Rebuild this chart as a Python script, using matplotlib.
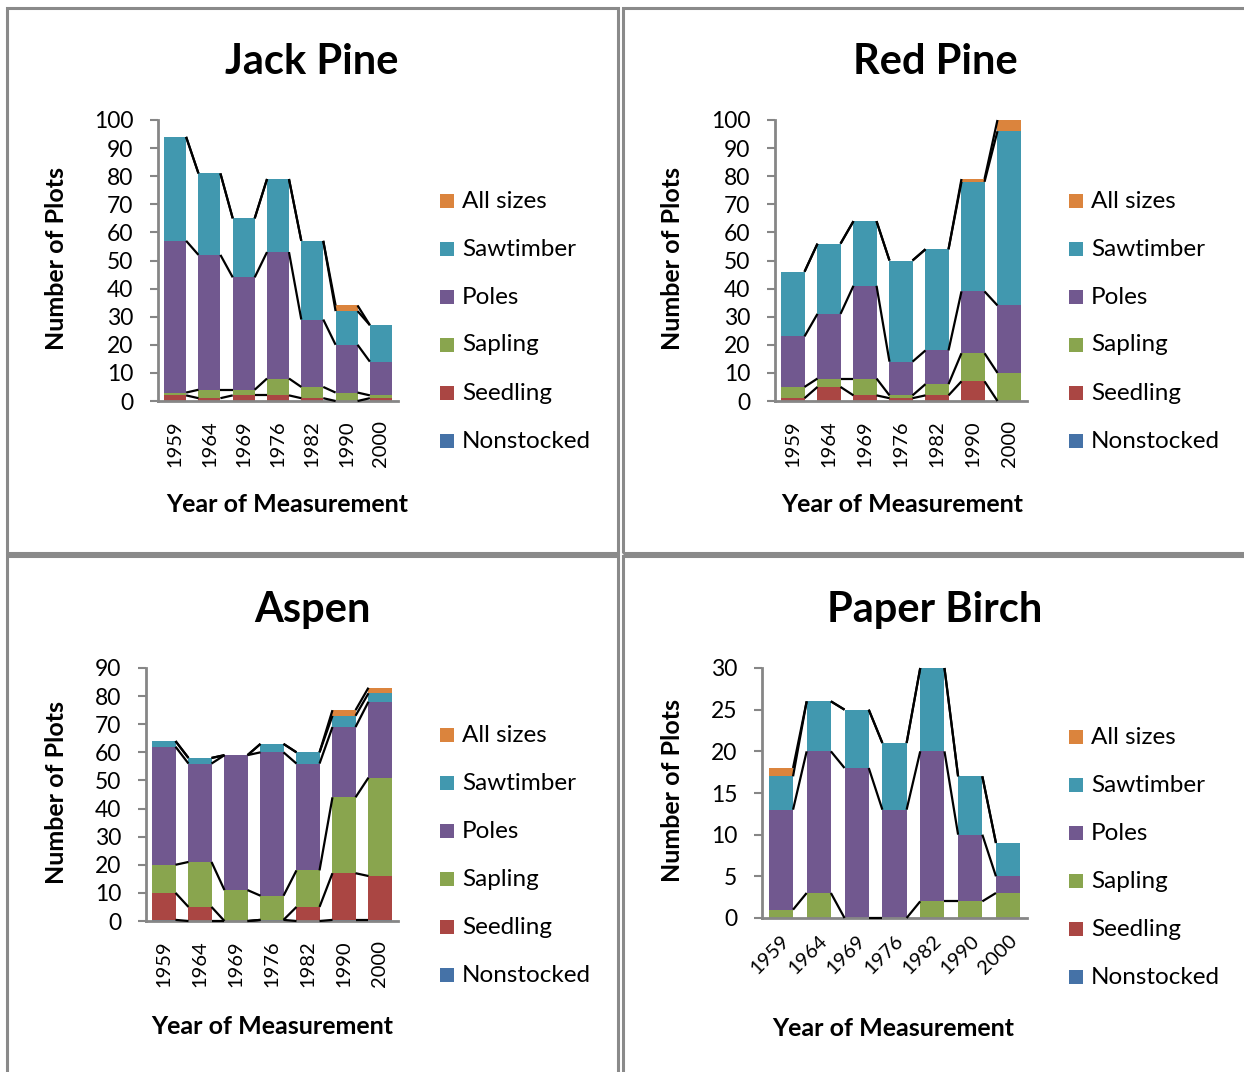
import numpy as np
import matplotlib

matplotlib.use("Agg")
import matplotlib.pyplot as plt
from matplotlib.patches import Rectangle

plt.rcParams["font.family"] = ["Lato", "DejaVu Sans"]

years = ["1959", "1964", "1969", "1976", "1982", "1990", "2000"]
series_names = ["Nonstocked", "Seedling", "Sapling", "Poles", "Sawtimber", "All sizes"]
colors = ["#4572A7", "#AA4643", "#89A54E", "#71588F", "#4198AF", "#DB843D"]

# ---------- plot counts per size class, bottom to top ----------
jp_nonstocked = [0, 0, 0, 0, 0, 0, 0]
jp_seedling = [2, 1, 2, 2, 1, 0, 1]
jp_sapling = [1, 3, 2, 6, 4, 3, 1]
jp_poles = [54, 48, 40, 45, 24, 17, 12]
jp_sawtimber = [37, 29, 21, 26, 28, 12, 13]
jp_allsizes = [0, 0, 0, 0, 0, 2, 0]

rp_nonstocked = [0, 0, 0, 0, 0, 0, 0]
rp_seedling = [1, 5, 2, 1, 2, 7, 0]
rp_sapling = [4, 3, 6, 1, 4, 10, 10]
rp_poles = [18, 23, 33, 12, 12, 22, 24]
rp_sawtimber = [23, 25, 23, 36, 36, 39, 62]
rp_allsizes = [0, 0, 0, 0, 0, 1, 4]

as_nonstocked = [0.4, 0, 0, 0.4, 0, 0.4, 0.4]
as_seedling = [9.6, 5, 0, 0, 5, 16.6, 15.6]
as_sapling = [10, 16, 11, 8.6, 13, 27, 35]
as_poles = [42, 35, 48, 51, 38, 25, 27]
as_sawtimber = [2, 2, 0, 3, 4, 4, 3]
as_allsizes = [0, 0, 0, 0, 0, 2, 2]

pb_nonstocked = [0, 0, 0, 0, 0, 0, 0]
pb_seedling = [0, 0, 0, 0, 0, 0, 0]
pb_sapling = [1, 3, 0, 0, 2, 2, 3]
pb_poles = [12, 17, 18, 13, 18, 8, 2]
pb_sawtimber = [4, 6, 7, 8, 10, 7, 4]
pb_allsizes = [1, 0, 0, 0, 0, 0, 0]

W, H = 1244, 1072
fig = plt.figure(figsize=(W / 100, H / 100), dpi=100)


def fx(px):
    return px / W


def fy(py):
    return 1 - py / H


# panel frames (double grey rule between panels)
for x0, y0, x1, y1 in [(7, 8, 618, 553), (623, 8, 1250, 553),
                       (7, 556, 618, 1080), (623, 556, 1250, 1080)]:
    fig.add_artist(Rectangle((fx(x0), fy(y1)), fx(x1 - x0), (y1 - y0) / H,
                             fill=False, edgecolor="#8a8a8a", linewidth=2.2,
                             transform=fig.transFigure))

panels = [
    dict(title="Jack Pine", box=(158, 120, 398, 401), ymax=100, step=10,
         data=[jp_nonstocked, jp_seedling, jp_sapling, jp_poles, jp_sawtimber, jp_allsizes],
         cx=312, ylab_x=57, xlab=(287, 505), leg=(447, 201), rot=90),
    dict(title="Red Pine", box=(775, 120, 1027, 401), ymax=100, step=10,
         data=[rp_nonstocked, rp_seedling, rp_sapling, rp_poles, rp_sawtimber, rp_allsizes],
         cx=935, ylab_x=673, xlab=(902, 505), leg=(1076, 201), rot=90),
    dict(title="Aspen", box=(146, 668, 398, 921), ymax=90, step=10,
         data=[as_nonstocked, as_seedling, as_sapling, as_poles, as_sawtimber, as_allsizes],
         cx=312, ylab_x=57, xlab=(272, 1026), leg=(447, 735), rot=90),
    dict(title="Paper Birch", box=(762, 668, 1027, 918), ymax=30, step=5,
         data=[pb_nonstocked, pb_seedling, pb_sapling, pb_poles, pb_sawtimber, pb_allsizes],
         cx=935, ylab_x=673, xlab=(893, 1029), leg=(1076, 737), rot=45),
]

bar_w = 0.64
x = np.arange(len(years))

for p in panels:
    l, t, r, b = p["box"]
    ax = fig.add_axes([fx(l), fy(b), (r - l) / W, (b - t) / H])
    bottom = np.zeros(len(years))
    for vals, c in zip(p["data"], colors):
        vals = np.array(vals, dtype=float)
        ax.bar(x, vals, bar_w, bottom=bottom, color=c, edgecolor="none", zorder=2)
        top = bottom + vals
        # series lines joining the stacked boundaries of neighbouring bars
        if vals.any() or bottom.any():
            for i in range(len(years) - 1):
                ax.plot([x[i] + bar_w / 2, x[i + 1] - bar_w / 2], [top[i], top[i + 1]],
                        color="black", linewidth=1.6, zorder=3, clip_on=False,
                        solid_capstyle="butt")
        bottom = top

    ax.set_xlim(-0.5, len(years) - 0.5)
    ax.set_ylim(0, p["ymax"])
    ax.set_yticks(np.arange(0, p["ymax"] + 1, p["step"]))
    ax.set_xticks(x)
    if p["rot"] == 90:
        ax.set_xticklabels(years, rotation=90, fontsize=14.5)
        ax.tick_params(axis="x", length=0, pad=14)
    else:
        ax.set_xticklabels(years, rotation=45, ha="right", rotation_mode="anchor", fontsize=14.5)
        ax.tick_params(axis="x", length=0, pad=10)
    ax.tick_params(axis="y", labelsize=16.5, length=5.8, width=1.5, color="#868686", pad=12)
    for side in ["top", "right"]:
        ax.spines[side].set_visible(False)
    for side in ["left", "bottom"]:
        ax.spines[side].set_color("#868686")
        ax.spines[side].set_linewidth(2)

    fig.text(fx(p["cx"]), fy(t - 58), p["title"], fontsize=30, fontweight="bold",
             ha="center", va="center")
    fig.text(fx(p["ylab_x"]), fy((t + b) / 2 - 2), "Number of Plots", fontsize=18,
             fontweight="bold", rotation=90, ha="center", va="center")
    fig.text(fx(p["xlab"][0]), fy(p["xlab"][1]), "Year of Measurement", fontsize=18,
             fontweight="bold", ha="center", va="center")

    lx, ly = p["leg"]
    for k, (name, c) in enumerate(zip(series_names[::-1], colors[::-1])):
        yy = ly + 48 * k
        fig.add_artist(Rectangle((fx(lx - 7), fy(yy + 7)), 14 / W, 14 / H,
                                 facecolor=c, edgecolor="none", transform=fig.transFigure))
        fig.text(fx(lx + 15), fy(yy), name, fontsize=17.5, ha="left", va="center")

fig.savefig("out.png", dpi=100)
